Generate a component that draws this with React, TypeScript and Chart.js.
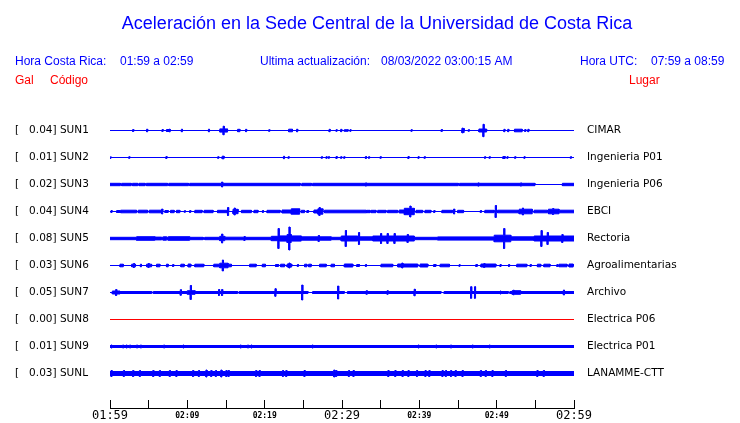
import React, { useEffect, useRef } from 'react';
import { Chart, registerables } from 'chart.js';

Chart.register(...registerables);

// ---- time axis (minutes after 01:59 local time) ----
const T_START = 0;
const T_END = 60;
const TICK_STEP = 5;
const TICK_LABELS = ['01:59', '', '02:09', '', '02:19', '', '02:29', '', '02:39', '', '02:49', '', '02:59'];
const MAJOR_TICKS = ['01:59', '02:29', '02:59'];

// ---- stations ----
const CODES = ['SUN1', 'SUN2', 'SUN3', 'SUN4', 'SUN5', 'SUN6', 'SUN7', 'SUN8', 'SUN9', 'SUNL'];
const GAL = ['0.04', '0.01', '0.02', '0.04', '0.08', '0.03', '0.05', '0.00', '0.01', '0.03'];
const PLACES = ['CIMAR', 'Ingenieria P01', 'Ingenieria P06', 'EBCI', 'Rectoria', 'Agroalimentarias', 'Archivo', 'Electrica P06', 'Electrica P01', 'LANAMME-CTT'];

// relative amplitude units: 27 units = distance between two traces
const AMP_PER_TRACE = 27;

type Burst = [number, number, number]; // [start min, end min, half amplitude]
type Spike = [number, number]; // [time min, half amplitude]

const SUN1_BURSTS: Burst[] = [[7.3, 7.8, 1], [14.2, 15.2, 1.6], [16.5, 16.8, 1.2], [23.1, 23.6, 1.3], [30.3, 30.8, 0.8], [45.5, 45.8, 2], [47.7, 48.7, 1.5], [52.3, 53.3, 1.3]];
const SUN1_SPIKES: Spike[] = [[3.0, 1], [4.8, 1.3], [6.8, 1], [7.7, 1.3], [9.3, 1.3], [12.8, 1.3], [14.7, 4.3], [17.6, 1.2], [20.6, 0.8], [24.2, 1.3], [28.4, 1.2], [29.3, 0.8], [29.9, 1.2], [31.1, 0.8], [39.0, 0.8], [42.9, 1], [45.6, 2.4], [46.4, 0.8], [48.3, 6.2], [51.0, 1.2], [51.5, 1.2], [53.7, 1], [54.1, 1.2]];

const SUN2_BURSTS: Burst[] = [[14.5, 14.75, 1.3], [50.8, 51.1, 1]];
const SUN2_SPIKES: Spike[] = [[0.05, 1], [2.5, 0.8], [7.3, 1], [14.0, 0.8], [22.5, 1.2], [23.1, 0.8], [27.4, 0.8], [28.0, 0.8], [28.3, 0.8], [29.3, 1], [29.9, 0.8], [30.3, 0.8], [33.1, 1], [33.5, 0.8], [35.0, 0.8], [38.6, 1], [39.9, 0.8], [40.7, 0.8], [48.5, 0.8], [49.1, 0.8], [51.4, 0.8], [52.4, 0.8], [53.6, 0.8], [59.6, 0.8]];

const SUN3_BURSTS: Burst[] = [[0, 1.35, 1.2], [1.5, 2.75, 1.2], [2.9, 3.6, 1.2], [3.75, 4.55, 1.2], [4.7, 7.45, 1.2], [7.6, 10.15, 1.2], [10.3, 24.6, 1.2], [24.8, 26.05, 1.2], [26.2, 45.05, 1.2], [45.2, 54.95, 1.2], [58.5, 60, 1.2]];
const SUN3_SPIKES: Spike[] = [[14.5, 2.5], [33.1, 1.6], [47.65, 1.6], [53.15, 1.6]];

const SUN4_BURSTS: Burst[] = [[0.86, 1.29, 1], [1.38, 3.44, 1.3], [3.66, 4.86, 1.3], [5.08, 6.67, 1.3], [7.1, 7.53, 1], [7.83, 8.3, 1.2], [8.6, 9.03, 1.2], [10.97, 11.91, 1.2], [12.17, 13.33, 1.2], [13.9, 15.18, 1.2], [15.9, 16.56, 2.2], [17.0, 18.28, 1.2], [18.62, 19.14, 1.2], [20.3, 22.0, 1.2], [22.24, 23.44, 1.5], [23.44, 24.52, 2.7], [24.73, 25.16, 1.2], [25.46, 25.68, 1], [26.37, 26.88, 1.5], [26.88, 27.53, 2.7], [27.74, 33.12, 1.3], [33.2, 33.63, 1.2], [33.76, 34.4, 1.2], [34.62, 35.7, 1.2], [35.9, 37.2, 1.2], [37.4, 38.06, 1.5], [38.06, 39.35, 3.2], [39.57, 40.43, 1.2], [40.73, 41.5, 1.2], [42.92, 44.3, 1.2], [44.95, 45.72, 1.2], [48.47, 49.68, 1.2], [50.1, 52.8, 1.3], [52.9, 54.6, 2.3], [54.84, 56.56, 1.3], [56.69, 58.06, 2.3], [58.06, 60, 1.3]];
const SUN4_SPIKES: Spike[] = [[0.2, 1], [6.75, 2.5], [9.68, 0.8], [10.37, 1], [15.27, 4], [16.13, 3.5], [19.78, 1], [27.1, 4], [38.84, 5.5], [41.94, 1], [44.5, 2.5], [47.96, 1], [49.89, 6], [53.4, 3.5], [57.3, 3]];

const SUN5_BURSTS: Burst[] = [[0, 3.44, 1.2], [3.44, 5.8, 1.8], [5.8, 6.67, 1.4], [6.67, 6.88, 1.2], [6.88, 7.3, 1.7], [7.3, 7.53, 1.2], [7.53, 10.3, 1.8], [10.3, 12.04, 1.2], [12.04, 12.26, 0.8], [12.26, 14.19, 1.2], [14.19, 14.84, 2.2], [14.84, 17.4, 1.3], [17.4, 20.86, 1.2], [20.86, 21.72, 2.2], [21.72, 22.9, 2.6], [22.9, 23.44, 4], [23.44, 24.73, 2.6], [24.73, 28.6, 1.7], [28.6, 29.9, 1.2], [29.9, 32.04, 2.5], [32.04, 33.98, 1.7], [33.98, 39.35, 2.5], [39.35, 42.37, 1.2], [42.37, 49.68, 1.6], [49.68, 51.83, 3.3], [51.83, 54.84, 1.7], [54.84, 60, 2.5]];
const SUN5_SPIKES: Spike[] = [[14.5, 4.5], [17.4, 2], [21.8, 10], [23.2, 11.5], [27.0, 3], [30.5, 8], [32.2, 6], [35.05, 5], [35.9, 5], [36.8, 5], [38.5, 4], [50.97, 10], [55.8, 8], [56.6, 6], [58.5, 4]];

const SUN6_BURSTS: Burst[] = [[1.29, 1.72, 1.3], [2.8, 3.3, 1.3], [4.73, 5.38, 1.3], [6.02, 6.45, 1.3], [7.3, 7.53, 1.3], [9.16, 9.6, 1.3], [10.1, 10.45, 1.5], [10.97, 12.13, 1.3], [13.42, 14.19, 1.3], [14.19, 15.27, 2.3], [15.27, 15.7, 1.3], [18.06, 18.9, 1.3], [19.7, 20.1, 1.3], [21.4, 21.8, 1], [22.06, 22.58, 1.3], [22.9, 23.5, 1.5], [25.16, 25.46, 1.3], [25.68, 26.02, 1.3], [27.1, 27.96, 1.3], [28.6, 29.03, 1.3], [30.3, 31.4, 1.5], [31.9, 32.26, 1], [35.05, 36.56, 1.3], [37.2, 39.8, 1.5], [40.1, 41.1, 1.5], [41.85, 42.15, 1], [42.7, 43.9, 1.3], [47.3, 47.5, 1], [47.96, 49.9, 1.5], [52.6, 53.9, 1.3], [55.27, 55.7, 1.3], [56.1, 56.9, 1.3], [58.06, 59.1, 1.3], [59.35, 59.9, 1.5]];
const SUN6_SPIKES: Spike[] = [[3.1, 2], [4.0, 1.3], [5.0, 2], [8.17, 1], [14.6, 5.5], [23.2, 2.5], [24.3, 1], [33.1, 1], [37.8, 2.5], [45.2, 0.8], [48.4, 2], [50.5, 1], [51.6, 1], [54.4, 1], [57.85, 1]];

const SUN7_BURSTS: Burst[] = [[0.3, 1.3, 1.5], [1.3, 5.4, 1], [5.6, 16.5, 1], [16.7, 25.6, 1], [26.2, 30.3, 1], [30.7, 42.8, 1], [43.2, 51.5, 1], [51.7, 60, 1], [10.0, 11.0, 1.8], [52.0, 53.1, 1.8]];
const SUN7_SPIKES: Spike[] = [[0.8, 3], [9.16, 2.8], [10.45, 7], [14.1, 3], [14.5, 3], [21.4, 3.8], [24.86, 7.5], [29.5, 6.5], [33.2, 1.8], [35.9, 1.8], [39.4, 3.3], [46.7, 5.8], [47.2, 5.8], [50.5, 1.5], [52.2, 2.3], [58.7, 2.5]];

const SUN8_BURSTS: Burst[] = [];
const SUN8_SPIKES: Spike[] = [];

const SUN9_BURSTS: Burst[] = [[0, 60, 1]];
const SUN9_SPIKES: Spike[] = [[0.2, 1.5], [1.7, 1.5], [2.15, 1.5], [2.6, 1.5], [3.5, 1.5], [4.0, 1.5], [7.0, 1.5], [9.5, 1.5], [16.9, 1.5], [17.85, 1.5], [18.3, 1.5], [26.2, 1.5], [39.9, 1.5], [42.2, 1.5], [44.1, 1.5], [46.9, 1.5], [49.1, 1.5]];

const SUNL_BURSTS: Burst[] = [[0, 60, 2]];
const SUNL_SPIKES: Spike[] = [[0.2, 3], [1.8, 3], [3.0, 3], [3.87, 3], [5.6, 3], [6.45, 3], [7.74, 3], [8.6, 3], [10.75, 3], [11.5, 3], [12.47, 3.5], [13.1, 3], [13.7, 3], [14.4, 3.5], [15.05, 3], [15.35, 3], [18.9, 3], [19.35, 3], [22.37, 3], [22.8, 3], [25.16, 3], [29.0, 3.5], [29.25, 3], [30.9, 3], [31.5, 3], [36.0, 3], [36.9, 3], [37.85, 3], [38.6, 3], [39.7, 3], [40.8, 3], [41.3, 3], [43.0, 3], [43.44, 3], [44.1, 3], [44.7, 3], [45.6, 3], [47.96, 3], [48.6, 3], [49.46, 3], [51.2, 3], [55.27, 3], [56.1, 3]];

const BURSTS: Burst[][] = [SUN1_BURSTS, SUN2_BURSTS, SUN3_BURSTS, SUN4_BURSTS, SUN5_BURSTS, SUN6_BURSTS, SUN7_BURSTS, SUN8_BURSTS, SUN9_BURSTS, SUNL_BURSTS];
const SPIKES: Spike[][] = [SUN1_SPIKES, SUN2_SPIKES, SUN3_SPIKES, SUN4_SPIKES, SUN5_SPIKES, SUN6_SPIKES, SUN7_SPIKES, SUN8_SPIKES, SUN9_SPIKES, SUNL_SPIKES];
const FLAT_CODES = ['SUN8'];

const BLUE = '#0000ff';
const RED = '#ff0000';
const SPIKE_HALF = 0.07;

function envelope(bursts: Burst[], spikes: Spike[]): Burst[] {
  const segs: Burst[] = [...bursts, ...spikes.map(([t, a]) => [t - SPIKE_HALF, t + SPIKE_HALF, a] as Burst)];
  const clamp = (v: number) => Math.min(T_END, Math.max(T_START, v));
  const cuts = new Set<number>([T_START, T_END]);
  segs.forEach(([s, e]) => { cuts.add(clamp(s)); cuts.add(clamp(e)); });
  const xs = Array.from(cuts).sort((a, b) => a - b);
  const out: Burst[] = [];
  for (let i = 0; i < xs.length - 1; i++) {
    const m = (xs[i] + xs[i + 1]) / 2;
    let a = 0;
    for (const [s, e, v] of segs) if (m >= s && m < e && v > a) a = v;
    const last = out[out.length - 1];
    if (last && last[2] === a) last[1] = xs[i + 1];
    else out.push([xs[i], xs[i + 1], a]);
  }
  return out;
}

function buildDatasets() {
  const sets: any[] = [];
  CODES.forEach((code, i) => {
    const offset = -i;
    const env = envelope(BURSTS[i], SPIKES[i]);
    const upper: { x: number; y: number }[] = [];
    const lower: { x: number; y: number }[] = [];
    env.forEach(([s, e, a]) => {
      const d = a / AMP_PER_TRACE;
      upper.push({ x: s, y: offset + d }, { x: e, y: offset + d });
      lower.push({ x: s, y: offset - d }, { x: e, y: offset - d });
    });
    const color = FLAT_CODES.includes(code) ? RED : BLUE;
    sets.push({
      label: code, data: upper, borderColor: color, backgroundColor: color, borderWidth: 1,
      pointRadius: 0, tension: 0, fill: '+1', yAxisID: 'y',
    });
    sets.push({
      label: code + '-', data: lower, borderColor: color, backgroundColor: color, borderWidth: 1,
      pointRadius: 0, tension: 0, fill: false, yAxisID: 'y',
    });
  });
  return sets;
}

const TRACE_TICKS = CODES.map((_, i) => -i);
const Y_MAX = 13.5 / AMP_PER_TRACE;
const Y_MIN = -(408 - 130.5) / AMP_PER_TRACE;

const headerPlugin = {
  id: 'header',
  afterDraw(chart: any) {
    const ctx = chart.ctx;
    ctx.save();
    ctx.textBaseline = 'alphabetic';
    ctx.fillStyle = BLUE;
    ctx.font = '18px "Liberation Sans", Arial, sans-serif';
    ctx.textAlign = 'center';
    ctx.fillText('Aceleración en la Sede Central de la Universidad de Costa Rica', 377, 29);
    ctx.textAlign = 'left';
    ctx.font = '12px "Liberation Sans", Arial, sans-serif';
    ctx.fillText('Hora Costa Rica:', 15, 65);
    ctx.fillText('01:59 a 02:59', 120, 65);
    ctx.fillText('Ultima actualización:', 260, 65);
    ctx.fillText('08/03/2022 03:00:15 AM', 381, 65);
    ctx.fillText('Hora UTC:', 580, 65);
    ctx.fillText('07:59 a 08:59', 651, 65);
    ctx.fillStyle = RED;
    ctx.fillText('Gal', 15, 84);
    ctx.fillText('Código', 50, 84);
    ctx.fillText('Lugar', 629, 84);
    ctx.restore();
  },
};

const noVPad = (s: any, w: number) => {
  s.width = w;
  s.paddingTop = 0;
  s.paddingBottom = 0;
};

export default function App() {
  const ref = useRef<HTMLCanvasElement | null>(null);
  useEffect(() => {
    if (!ref.current) return;
    const chart = new Chart(ref.current, {
      type: 'line',
      data: { datasets: buildDatasets() },
      plugins: [headerPlugin],
      options: {
        responsive: false,
        animation: false,
        events: [],
        layout: { padding: { top: 117, left: 15, right: 0, bottom: 0 } },
        plugins: { legend: { display: false }, tooltip: { enabled: false }, title: { display: false } },
        scales: {
          x: {
            type: 'linear',
            position: 'bottom',
            min: T_START,
            max: T_END,
            afterFit: (s: any) => { s.height = 15; },
            border: { display: true, color: '#000', width: 1 },
            grid: { display: true, drawOnChartArea: false, drawTicks: true, tickLength: -8, color: '#000', lineWidth: 1 },
            ticks: {
              stepSize: TICK_STEP,
              autoSkip: false,
              maxRotation: 0,
              minRotation: 0,
              padding: 9,
              color: '#000',
              callback: (_v: any, i: number) => TICK_LABELS[i],
              font: (c: any) => MAJOR_TICKS.includes(TICK_LABELS[c.index])
                ? { family: '"DejaVu Sans Mono", monospace', size: 12, lineHeight: 1.2 }
                : { family: '"DejaVu Sans Mono", monospace', size: 8, weight: 'bold', lineHeight: 1.8 },
            },
          },
          y: {
            type: 'linear',
            position: 'left',
            min: Y_MIN,
            max: Y_MAX,
            afterFit: (s: any) => noVPad(s, 95),
            afterBuildTicks: (s: any) => { s.ticks = TRACE_TICKS.map((v) => ({ value: v })); },
            border: { display: false },
            grid: { display: false, drawTicks: false },
            ticks: {
              crossAlign: 'far',
              padding: 0,
              color: '#000',
              font: { family: '"DejaVu Sans", sans-serif', size: 10.5 },
              callback: (v: any) => {
                const i = Math.round(-Number(v));
                return `[   ${GAL[i]}] ${CODES[i]}`;
              },
            },
          },
          y2: {
            type: 'linear',
            position: 'right',
            min: Y_MIN,
            max: Y_MAX,
            afterFit: (s: any) => noVPad(s, 166),
            afterBuildTicks: (s: any) => { s.ticks = TRACE_TICKS.map((v) => ({ value: v })); },
            border: { display: false },
            grid: { display: false, drawTicks: false },
            ticks: {
              padding: 13,
              color: '#000',
              font: { family: '"DejaVu Sans", sans-serif', size: 10.5 },
              callback: (v: any) => PLACES[Math.round(-Number(v))],
            },
          },
        },
      } as any,
    });
    return () => chart.destroy();
  }, []);
  return (
    <div style={{ position: 'fixed', left: 0, top: 0, width: 740, height: 423, background: '#fff' }}>
      <canvas ref={ref} width={740} height={423} style={{ display: 'block', width: 740, height: 423 }} />
    </div>
  );
}
